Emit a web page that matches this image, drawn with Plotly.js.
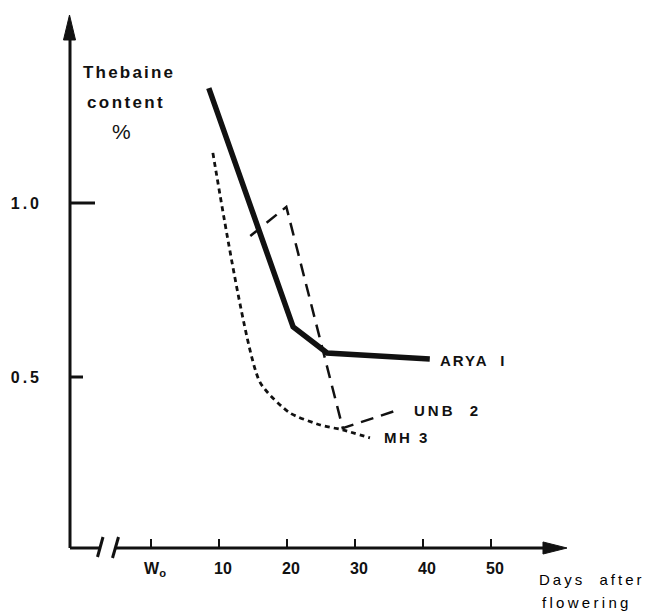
<!DOCTYPE html>
<html>
<head>
<meta charset="utf-8">
<script src="https://cdn.plot.ly/plotly-3.0.1.min.js"></script>
<style>html,body{margin:0;padding:0;background:#fff;}#chart{width:656px;height:612px;}</style>
</head>
<body>
<div id="chart"></div>
<script>
// ---- data ----
var aryaDays = [8.5, 20.9, 25.9, 41.0];
var aryaVals = [1.33, 0.644, 0.569, 0.552];
var unbDays = [14.6, 19.9, 28.2, 36.3];
var unbVals = [0.905, 0.989, 0.353, 0.405];
var mhDays = [9.1, 16.0, 20.4, 24.9, 28.2, 32.2];
var mhVals = [1.144, 0.486, 0.397, 0.362, 0.348, 0.325];
var xTickVals = [0, 10, 20, 30, 40, 50];
var xTickText = ['W<sub>o</sub>', '10', '20', '30', '40', '50'];
var yTickVals = [0.5, 1.0];
var yTickText = ['0.5', '1.0'];
var seriesNames = ['ARYA I', 'UNB 2', 'MH 3'];

// ---- layout helpers (plot area in pixels) ----
var L = 70, T = 15, W = 497, H = 533;
function px(x) { return (x - L) / W; }
function py(y) { return (T + H - y) / H; }
function P(x, y) { return px(x).toFixed(4) + ',' + py(y).toFixed(4); }
function sp(t, ls) { return '<span style="letter-spacing:' + ls + 'px">' + t + '</span>'; }

var FONT = 'Liberation Sans, Arial, sans-serif';
var ink = '#111';

var traces = [
  {x: aryaDays, y: aryaVals, name: seriesNames[0], mode: 'lines',
   line: {color: ink, width: 5.5}},
  {x: unbDays, y: unbVals, name: seriesNames[1], mode: 'lines',
   line: {color: ink, width: 2.5, dash: '13px,8px'}},
  {x: mhDays, y: mhVals, name: seriesNames[2], mode: 'lines',
   line: {color: ink, width: 2.8, dash: '5px,4px', shape: 'spline', smoothing: 0.6}}
];

var shapes = [
  {type: 'line', xref: 'paper', yref: 'paper', x0: px(70), x1: px(70), y0: py(548), y1: py(30),
   line: {color: ink, width: 3}},
  {type: 'path', xref: 'paper', yref: 'paper', path: 'M' + P(69.5, 15) + ' L' + P(63.5, 40) + ' L' + P(75.5, 40) + ' Z',
   fillcolor: ink, line: {color: ink, width: 1}},
  {type: 'line', xref: 'paper', yref: 'paper', x0: px(70), x1: px(100), y0: py(548), y1: py(548),
   line: {color: ink, width: 3}},
  {type: 'line', xref: 'paper', yref: 'paper', x0: px(116), x1: px(550), y0: py(548), y1: py(548),
   line: {color: ink, width: 3}},
  {type: 'path', xref: 'paper', yref: 'paper', path: 'M' + P(567, 548) + ' L' + P(543, 542) + ' L' + P(543, 554) + ' Z',
   fillcolor: ink, line: {color: ink, width: 1}},
  {type: 'line', xref: 'paper', yref: 'paper', x0: px(97.5), x1: px(103), y0: py(557), y1: py(537),
   line: {color: ink, width: 3}},
  {type: 'line', xref: 'paper', yref: 'paper', x0: px(112.5), x1: px(118.5), y0: py(558), y1: py(537),
   line: {color: ink, width: 3}},
  {type: 'line', xref: 'paper', yref: 'y', x0: px(70), x1: px(95), y0: yTickVals[1], y1: yTickVals[1],
   line: {color: ink, width: 3}},
  {type: 'line', xref: 'paper', yref: 'y', x0: px(70), x1: px(83), y0: yTickVals[0], y1: yTickVals[0],
   line: {color: ink, width: 3}}
];

function ann(o) {
  var a = {showarrow: false, xanchor: 'center', yanchor: 'middle'};
  for (var k in o) a[k] = o[k];
  return a;
}

var annotations = [
  ann({xref: 'paper', yref: 'paper', x: px(129), y: py(73), text: sp('Thebaine', 2.2),
   font: {family: FONT, size: 17, color: ink, weight: 'bold'}}),
  ann({xref: 'paper', yref: 'paper', x: px(125.5), y: py(102), text: sp('content', 2.4),
   font: {family: FONT, size: 17, color: ink, weight: 'bold'}}),
  ann({xref: 'paper', yref: 'paper', x: px(121), y: py(131), text: '%',
   font: {family: FONT, size: 21, color: ink}}),
  ann({xref: 'paper', yref: 'paper', x: px(537), y: py(579), xanchor: 'left', text: sp('Days  after', 3),
   font: {family: FONT, size: 15, color: '#000'}}),
  ann({xref: 'paper', yref: 'paper', x: px(540), y: py(602), xanchor: 'left', text: sp('flowering', 3.3),
   font: {family: FONT, size: 15, color: '#000'}}),
  ann({xref: 'x', yref: 'y', x: 42.2, y: aryaVals[3] - 0.006, xanchor: 'left', text: sp('ARYA  I', 2),
   font: {family: FONT, size: 15, color: ink, weight: 'bold'}}),
  ann({xref: 'x', yref: 'y', x: 38.4, y: unbVals[3], xanchor: 'left', text: sp('UNB  2', 3),
   font: {family: FONT, size: 15, color: ink, weight: 'bold'}}),
  ann({xref: 'x', yref: 'y', x: 34.0, y: mhVals[5], xanchor: 'left', text: sp('MH 3', 2.5),
   font: {family: FONT, size: 15, color: ink, weight: 'bold'}})
];

var layout = {
  width: 656, height: 612,
  margin: {l: L, r: 656 - L - W, t: T, b: 612 - T - H, pad: 0},
  paper_bgcolor: '#fff', plot_bgcolor: '#fff',
  showlegend: false,
  xaxis: {
    range: [(70 - 151) / 6.8, (567 - 151) / 6.8],
    showgrid: false, zeroline: false, showline: false,
    tickvals: xTickVals, ticktext: xTickText,
    ticks: 'inside', ticklen: 9, tickwidth: 2.5, tickcolor: ink,
    ticklabelstandoff: 9, ticklabelshift: 4,
    tickfont: {family: FONT, size: 16, color: ink, weight: 'bold'}
  },
  yaxis: {
    range: [(551 - 548) / 348, (551 - 15) / 348],
    showgrid: false, zeroline: false, showline: false,
    tickvals: yTickVals, ticktext: yTickText.map(function (t) { return sp(t, 3); }),
    ticks: '', ticklabelstandoff: 27,
    tickfont: {family: FONT, size: 16, color: ink, weight: 'bold'}
  },
  shapes: shapes,
  annotations: annotations
};

Plotly.newPlot('chart', traces, layout, {staticPlot: true, displayModeBar: false});
</script>
</body>
</html>
